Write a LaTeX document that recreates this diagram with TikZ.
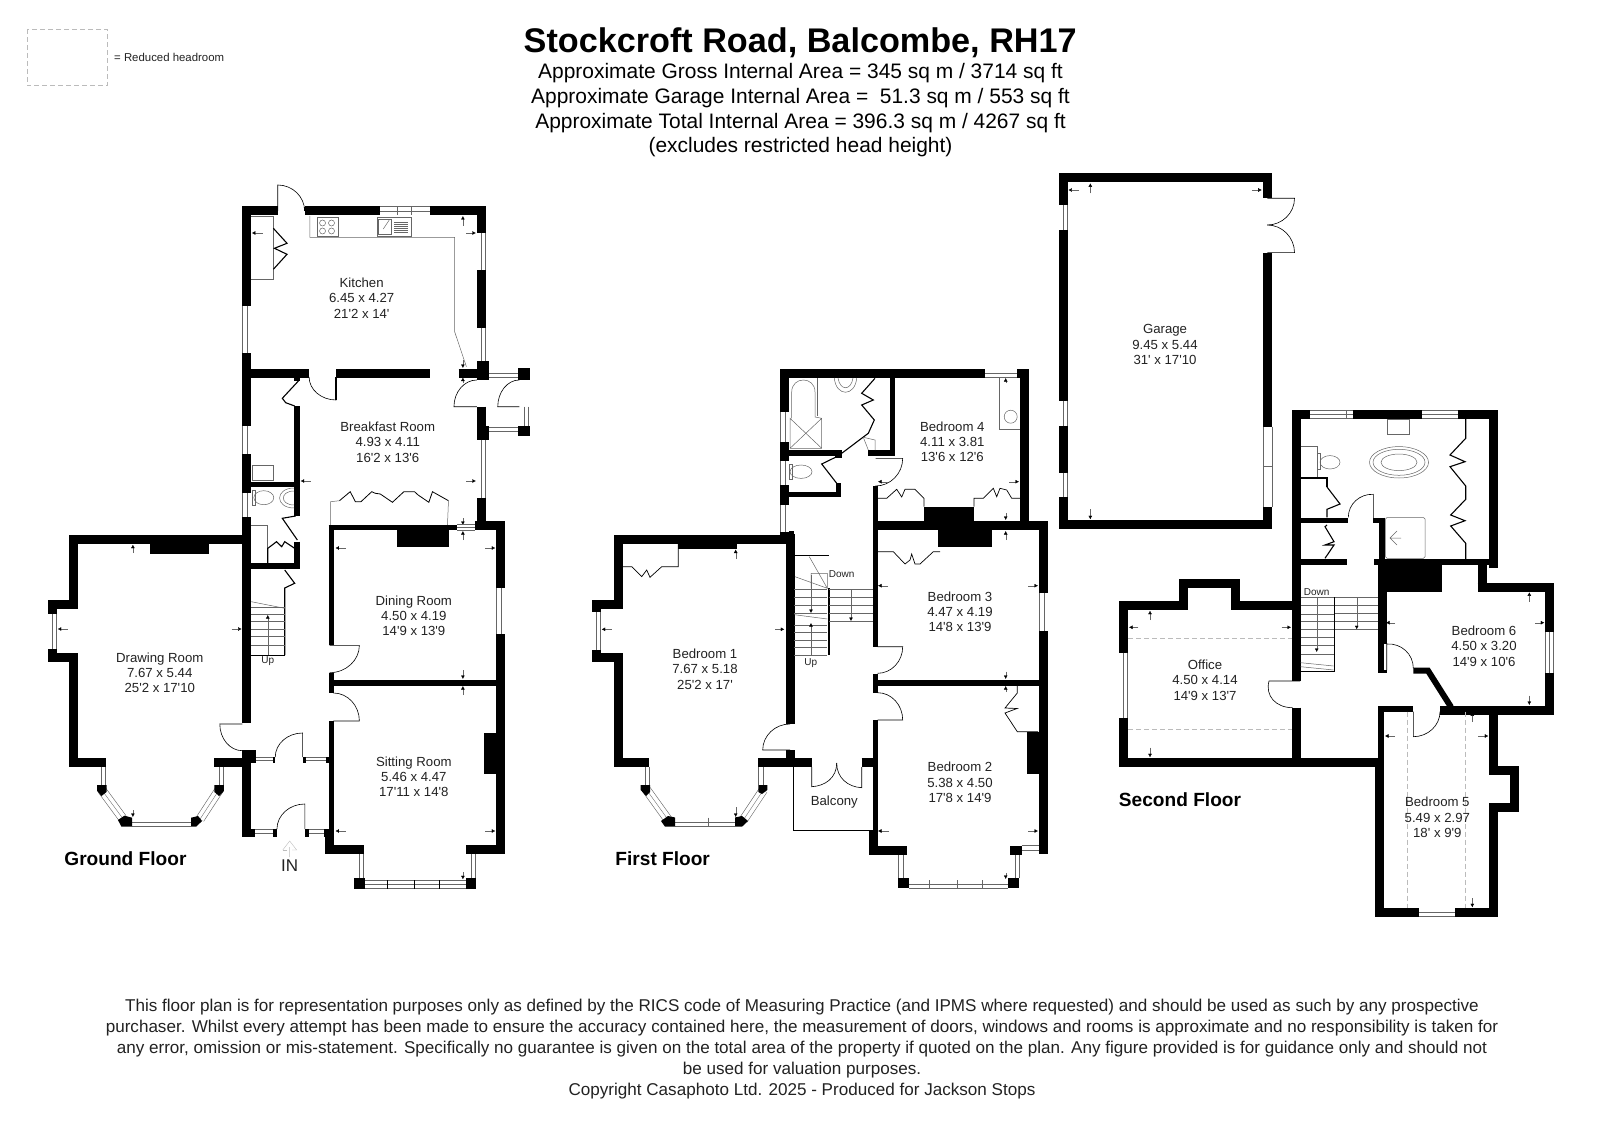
\documentclass[tikz,border=0pt]{standalone}
\usepackage{fontspec}
\setmainfont{Liberation Sans}[Ligatures=TeXOff]
\usetikzlibrary{arrows.meta,calc}
\definecolor{inkgrey}{HTML}{222222}
\definecolor{linegrey}{HTML}{666666}
\definecolor{roofgrey}{HTML}{BBBBBB}
\tikzset{
  wall/.style={line width=9pt,black},
  midwall/.style={line width=5.6pt,black},
  fixture/.style={line width=.5pt,linegrey},
  leaf/.style={line width=1.1pt,black,line join=miter},
  swing/.style={line width=.6pt,black},
  glassedge/.style={draw=linegrey,line width=.6pt,double=white,double distance=7.8pt},
  glassmid/.style={line width=.35pt,linegrey},
  dimarrow/.style={line width=.35pt,linegrey,-{Latex[length=3.5pt,width=3.8pt,black]}},
  roofline/.style={line width=.6pt,roofgrey,dash pattern=on 5pt off 3pt},
  roomlabel/.style={inner sep=0pt,align=center,text=inkgrey,font=\fontsize{13.2}{15.3}\selectfont},
  floorlabel/.style={inner sep=0pt,font=\bfseries\fontsize{19.1}{21}\selectfont},
  stairlabel/.style={inner sep=0pt,text=inkgrey,font=\fontsize{10}{12}\selectfont},
}
% door: hinge, tip of the leaf, end of the arc
\newcommand{\doorswing}[6]{\draw[swing] (#1,#2) -- (#3,#4) .. controls ($(#3,#4)+.55*(#5,#6)-.55*(#1,#2)$) and ($(#5,#6)+.55*(#3,#4)-.55*(#1,#2)$) .. (#5,#6);}
\newcommand{\glazing}[3][7.8pt]{\draw[glassedge,double distance=#1] #2 -- #3; \draw[glassmid] #2 -- #3;}
\begin{document}
\begin{tikzpicture}[x=1pt,y=-1pt]
    \useasboundingbox (0,0) rectangle (1600,1131);

    % Heading
    \node[inner sep=0pt,font=\bfseries\fontsize{34.2}{36}\selectfont] (title) at (800.2,43) {Stockcroft Road, Balcombe, RH17};
    \node[inner sep=0pt,align=center,font=\fontsize{20.95}{24.6}\selectfont,anchor=north] (areas) at (800.5,63.5) {Approximate Gross Internal Area = 345 sq m / 3714 sq ft\\Approximate Garage Internal Area =\ \ 51.3 sq m / 553 sq ft\\Approximate Total Internal Area = 396.3 sq m / 4267 sq ft\\(excludes restricted head height)};
    \draw[roofline] (26.8,29) rectangle (107.2,85.7);
    \node[anchor=west,inner sep=0pt,text=inkgrey,font=\fontsize{11.4}{13}\selectfont] (legend) at (114,57.3) {= Reduced headroom};

    \begin{scope}[xscale=.9955]
    % Kitchen
    \draw[wall] (279,211) -- (248,211) -- (248,306);
    \draw[wall] (306,211) -- (382,211);
    \draw[wall] (432,211) -- (483.5,211) -- (483.5,233);
    \draw[wall] (483.5,270) -- (483.5,328);
    \draw[wall] (483.5,361) -- (483.5,380);
    \draw[wall] (248,353) -- (248,426);
    \draw[wall] (248,453.6) -- (248,493);
    \draw[wall] (248,517) -- (248,723);
    \draw[wall] (248,750.7) -- (248,837.3);
    \draw[wall] (248,373) -- (310.5,373);
    \draw[wall] (337.6,373) -- (432,373);
    \draw[wall] (460.6,373) -- (491,373);
    \fill (479,361) rectangle (491,380);
    \fill (520.5,368.3) rectangle (532,380);
    \glazing{(382,211)}{(432,211)}
    \draw[glassmid] (398.5,207) -- (398.5,215.5) (413,207) -- (413,215.5);
    \glazing{(483.5,233)}{(483.5,270)}
    \glazing{(483.5,328)}{(483.5,361)}
    \glazing{(248,306)}{(248,353)}
    \glazing{(248,426)}{(248,453.6)}
    \glazing{(248,493)}{(248,517)}
    \doorswing{279}{211}{279}{185}{306}{211}
    \draw[swing] (306,211) -- (306,207);
    \doorswing{337.6}{377}{337.6}{400}{310.5}{377}
    \draw[line width=2pt] (337.6,377) -- (337.6,400);
    \draw[fixture] (252.4,216.7) -- (274.6,216.7) -- (274.6,279.3) -- (252.4,279.3);
    \draw[leaf] (274.6,228.3) -- (288.3,243.3) -- (275.7,248.3) -- (288.3,254.3) -- (274.6,269.3);
    \draw[fixture] (311.3,216) -- (311.3,237.3) -- (456.7,237.3) -- (456.7,331.7) -- (468.5,366.7);
    \draw[fixture] (318.8,217.7) rectangle (339.3,236);
    \foreach \hx/\hy in {324/223,333/223,324/231,333/231}{\draw[fixture] (\hx,\hy) circle (3pt);}
    \draw[fixture] (378.7,217.7) rectangle (412.9,236);
    \draw[fixture] (380,219) rectangle (393,234);
    \foreach \sy in {222,224,226,228,230,232}{\draw[fixture] (396,\sy) -- (410,\sy);}
    \draw[fixture] (385,229) -- (391,220);
    \node[roomlabel] (kitchen) at (363.3,298) {Kitchen\\6.45 x 4.27\\21'2 x 14'};
    \draw[dimarrow] (264,233) -- (253,233);
    \draw[dimarrow] (465,226) -- (465,216);
    \draw[dimarrow] (468.5,233) -- (478,233);
    \draw[dimarrow] (465,360) -- (465,368);

    % Breakfast room and cloaks
    \draw[wall] (483.5,406.7) -- (483.5,440);
    \draw[wall] (483.5,498) -- (483.5,523);
    \fill (479,426) rectangle (491,440);
    \glazing{(483.5,440)}{(483.5,498)}
    \glazing{(491,373)}{(520.5,373)}
    \glazing[7pt]{(491,431)}{(520.5,431)}
    \fill (520.5,425.7) rectangle (532,436);
    \glazing[7pt]{(527,406.7)}{(527,425.7)}
    \doorswing{479}{406.7}{456}{406.7}{479}{380}
    \doorswing{521.6}{406.7}{500}{406.7}{521.6}{380}
    \draw[midwall] (298.5,406) -- (298.5,516);
    \draw[midwall] (298.5,541.7) -- (298.5,569);
    \draw[line width=5pt] (248,484) -- (298.5,484);
    \draw[midwall] (248,566) -- (301,566);
    \fill (295.5,377) rectangle (301.5,380.7);
    \draw[leaf] (300,380.7) -- (283.6,398.3) -- (287,402.7) -- (296,406);
    \draw[leaf] (297,516) -- (283.6,518.3) -- (298.7,540);
    \draw[fixture] (253,465.7) rectangle (274.6,480.7);
    \draw[fixture] (253,490) rectangle (256.7,505);
    \draw[fixture] (265,497.7) ellipse (10pt and 7pt);
    \draw[fixture] (295.5,488) .. controls (276,488) and (276,508) .. (295.5,508);
    \draw[fixture] (295.5,491) .. controls (281,491) and (281,505) .. (295.5,505);
    \draw[fixture] (252.4,525) -- (268,525) -- (268,563);
    \draw[leaf] (269,563) -- (269,548.3) -- (277.8,541.7) -- (283,546.7) -- (286,541.7) -- (296,548.3);
    \draw[leaf] (286,570) -- (296,583.3) -- (286,588) -- (286,655);
    \node[roomlabel] (breakfast) at (389.5,442) {Breakfast Room\\4.93 x 4.11\\16'2 x 13'6};
    \draw[fixture] (332,525) -- (332,501.7) -- (341,500.7);
    \draw[leaf,line width=.8pt] (341,500.7) -- (351.8,491.7) -- (357,501.7) -- (362.6,501.7) -- (373.4,491.7) -- (377,493.3) -- (382,494) -- (394.2,502.3) -- (405.7,491.7) -- (416.4,491.7) -- (420,495) -- (430.8,502.3) -- (434.4,491.7) -- (450.5,500.7);
    \draw[fixture] (450.5,500.7) -- (449.5,525);
    \draw[dimarrow] (465,383) -- (465,377.5);
    \draw[dimarrow] (312,481) -- (302,481);
    \draw[dimarrow] (468.5,481) -- (478,481);
    \draw[dimarrow] (465,518) -- (465,525);

    % Stairs up
    \foreach \ty in {607.3,614.3,621.7,629.3,636.7,645.7}{\draw[fixture] (252.4,\ty) -- (286,\ty);}
    \draw[fixture] (252.4,601.7) -- (286,608.3);
    \draw[line width=.9pt] (252.4,655) -- (286,655);
    \draw[dimarrow] (269,655) -- (269,615);
    \node[stairlabel] (upa) at (269,660.7) {Up};

    % Dining room
    \draw[line width=5pt] (333,527) -- (333,645.3);
    \draw[line width=5pt] (333,672.7) -- (333,693);
    \draw[line width=5pt] (333,721) -- (333,840);
    \draw[line width=5pt] (330,527.5) -- (451,527.5);
    \draw[wall] (477,525.5) -- (503,525.5) -- (503,588);
    \draw[wall] (503,634) -- (503,849.5) -- (468.5,849.5);
    \draw[line width=6pt] (333,682.5) -- (498,682.5);
    \fill (399,530) rectangle (450.6,547.3);
    \glazing[5pt]{(459,527.5)}{(477.5,527.5)}
    \fill (451,525) rectangle (459,530);
    \glazing{(503,588)}{(503,634)}
    \doorswing{331}{645.3}{361}{645.3}{331}{672.7}
    \node[roomlabel] (dining) at (415.7,615.7) {Dining Room\\4.50 x 4.19\\14'9 x 13'9};
    \draw[dimarrow] (465,540) -- (465,531);
    \draw[dimarrow] (347.5,548) -- (337,548);
    \draw[dimarrow] (487.5,548) -- (497.5,548);
    \draw[dimarrow] (465,670) -- (465,679);

    % Sitting room
    \doorswing{335}{721}{361}{721}{335}{693}
    \draw[wall] (331,837) -- (331,849.5) -- (365.5,849.5);
    \fill (486,733) rectangle (498,774);
    \fill (356,878) rectangle (367,889);
    \fill (468,878) rectangle (478,889);
    \glazing{(361,854)}{(361,878)}
    \glazing{(473.5,854)}{(473.5,878)}
    \glazing{(367,884.5)}{(468,884.5)}
    \draw[line width=1pt] (389.5,880) -- (389.5,889) (416.4,880) -- (416.4,889) (441.5,880) -- (441.5,889);
    \node[roomlabel] (sitting) at (415.7,776.7) {Sitting Room\\5.46 x 4.47\\17'11 x 14'8};
    \draw[dimarrow] (465,695) -- (465,686);
    \draw[dimarrow] (347.5,831) -- (337,831);
    \draw[dimarrow] (487.5,831) -- (497.5,831);
    \draw[dimarrow] (465,872) -- (465,879.3);

    % Entrance
    \fill (243.4,750) rectangle (257,763.3);
    \fill (274,757.3) rectangle (276.5,763.3);
    \fill (304,757.3) rectangle (307,763.3);
    \fill (327,757.3) rectangle (335,763.3);
    \glazing[5pt]{(257,760.3)}{(274,760.3)}
    \glazing[5pt]{(307,760.3)}{(327,760.3)}
    \doorswing{304}{757}{304}{733}{276.5}{757}
    \fill (243.5,829) rectangle (256.3,837.3);
    \fill (274.6,829) rectangle (278.2,837.3);
    \fill (306.2,829) rectangle (310.5,837.3);
    \fill (325,829) rectangle (335.6,837.3);
    \glazing[7pt]{(256.3,833)}{(274.6,833)}
    \glazing[7pt]{(310.5,833)}{(325,833)}
    \doorswing{306.2}{829}{306.2}{804}{278.2}{829}
    \draw[line width=.4pt,roofgrey] (291,857) -- (291,847) (284,850) -- (291,841) -- (298,850) -- (293.5,850);
    \draw[line width=.4pt,roofgrey] (288.5,850) -- (284,850);
    \node[inner sep=0pt,text=inkgrey,font=\fontsize{17}{19}\selectfont] (entry) at (291,866) {IN};

    % Drawing room
    \draw[wall] (248,539.3) -- (73.8,539.3) -- (73.8,604.5) -- (52.5,604.5) -- (52.5,614);
    \draw[wall] (52.5,649) -- (52.5,657.2) -- (73.8,657.2) -- (73.8,762.5) -- (106,762.5);
    \draw[wall] (215.4,762.5) -- (248,762.5);
    \fill (150.8,544) rectangle (210,554.3);
    \glazing{(52.5,614)}{(52.5,649)}
    \glazing{(101.8,767)}{(101.8,785)}
    \glazing{(220.2,767)}{(220.2,785)}
    \glazing{(102.3,790)}{(123,818)}
    \glazing{(201,819)}{(220,790)}
    \glazing{(132.8,822.2)}{(192,822.2)}
    \fill (97.6,785) -- (107,785) -- (107,792) -- (102,796) -- (97.6,791) -- cycle;
    \fill (215.4,785) -- (225,785) -- (225,791) -- (220,796) -- (215.4,792) -- cycle;
    \fill (118.5,820) -- (125,815.7) -- (132.8,817.7) -- (132.8,826.7) -- (122,826.7) -- cycle;
    \fill (192,817.7) -- (199,816) -- (203,821) -- (197,826.7) -- (192,826.7) -- cycle;
    \doorswing{243.4}{724}{220.8}{724}{243.4}{750.7}
    \node[roomlabel] (drawing) at (160.5,672.7) {Drawing Room\\7.67 x 5.44\\25'2 x 17'10};
    \draw[dimarrow] (133.5,553) -- (133.5,544.7);
    \draw[dimarrow] (68,629) -- (58,629);
    \draw[dimarrow] (232.6,629) -- (242.7,629);
    \draw[dimarrow] (133.5,810) -- (133.5,817);
    \node[floorlabel] (groundfloor) at (126,859) {Ground Floor};
    \end{scope}

    % First floor: outer walls
    \draw[wall] (985,373) -- (784.7,373) -- (784.7,412.3);
    \draw[wall] (1016.7,373) -- (1024.7,373) -- (1024.7,521);
    \draw[wall] (784.7,442) -- (784.7,461);
    \draw[wall] (784.7,485) -- (784.7,505);
    \fill (780,531) rectangle (794.3,540);
    \draw[wall] (790,534) -- (790,724);
    \draw[wall] (790,750) -- (790,762.3);
    \glazing{(985,373)}{(1016.7,373)}
    \glazing{(784.7,412.3)}{(784.7,442)}
    \glazing{(784.7,461)}{(784.7,485)}
    \glazing{(784.7,505)}{(784.7,531.7)}

    % Bathroom and WC
    \draw[midwall] (789,453) -- (841.7,453);
    \fill (835,455) rectangle (841.7,458);
    \draw[midwall] (868.3,453) -- (892.3,453) -- (892.3,377);
    \draw[midwall] (789,494.5) -- (838.3,494.5) -- (838.3,483.3);
    \draw[fixture] (791.7,418.3) -- (791.7,392) .. controls (791.7,376) and (815,376) .. (815,392) -- (815,417) -- (821.7,418.3) -- (821.7,448.3) -- (790,448.3) -- (790,418.3) -- (821.7,448.3) (790,448.3) -- (821.7,418.3);
    \draw[fixture] (817,378) -- (817,416);
    \draw[fixture] (834.3,378) .. controls (836,397) and (855,397) .. (856.7,378);
    \draw[fixture] (838,378) .. controls (840,391) and (851,391) .. (853,378);
    \draw[fixture] (789.3,464) rectangle (792.7,479.3);
    \draw[fixture] (801,471.7) ellipse (11pt and 6.7pt);
    \draw[leaf] (875,378.3) -- (861.7,393.3) -- (873.3,400) -- (861.7,405) -- (874.3,420) -- (868.3,433.3) -- (841.7,453.3);
    \draw[fixture] (863.3,437.3) -- (868.3,450) (863.3,437.3) -- (875,440) -- (875,450);
    \draw[leaf] (836.7,456.7) -- (821.7,464) -- (836.7,483.3);

    % Bedroom 4
    \draw[line width=5pt] (875.5,486) -- (875.5,646.7);
    \draw[wall] (877.7,525.5) -- (1043.7,525.5) -- (1043.7,593.3);
    \fill (924,506.7) rectangle (974,521);
    \fill (938.3,530) rectangle (991.7,547.3);
    \doorswing{875.5}{458.3}{902.7}{458.3}{875.5}{486}
    \draw[fixture] (999.3,378) -- (999.3,429.3) -- (1020,429.3);
    \draw[fixture] (1010.7,416.7) circle (6.5pt);
    \draw[leaf,line width=.7pt] (878,498.3) -- (886.7,498.3) -- (896.7,489.3) -- (901.7,497) -- (905,489.3) -- (915,489.3) -- (924,498.3) -- (924,506.7);
    \draw[leaf,line width=.7pt] (974,506.7) -- (974,498.3) -- (983.3,498.3) -- (993.3,488.3) -- (996.7,496.7) -- (1000,488.3) -- (1006.7,490) -- (1011.7,498.3) -- (1020,498.3);
    \node[roomlabel] (bedfour) at (952.3,441.7) {Bedroom 4\\4.11 x 3.81\\13'6 x 12'6};
    \draw[dimarrow] (1005.7,383) -- (1005.7,378);
    \draw[dimarrow] (888,481.7) -- (878,481.7);
    \draw[dimarrow] (1009,481.7) -- (1019,481.7);
    \draw[dimarrow] (1005.7,513) -- (1005.7,520);

    % Bedroom 3
    \draw[wall] (1043.7,631) -- (1043.7,849.5);
    \draw[line width=5pt] (875.5,674) -- (875.5,692.7);
    \draw[line width=6pt] (875.5,682.5) -- (1039,682.5);
    \glazing{(1043.7,593.3)}{(1043.7,631)}
    \doorswing{877.7}{646.7}{902.7}{646.7}{877.7}{673.3}
    \draw[leaf,line width=.7pt] (878,551.7) -- (893.3,551.7) -- (905,564) -- (910,560) -- (911.7,554) -- (915,564) -- (920,564) -- (933.3,551.7) -- (940,551.7);
    \node[roomlabel] (bedthree) at (960,611.7) {Bedroom 3\\4.47 x 4.19\\14'8 x 13'9};
    \draw[dimarrow] (1005.7,540) -- (1005.7,531);
    \draw[dimarrow] (888,585.7) -- (878,585.7);
    \draw[dimarrow] (1028,585.7) -- (1038,585.7);
    \draw[dimarrow] (1005.7,671.7) -- (1005.7,679);

    % Bedroom 2
    \draw[line width=5pt] (875.5,720) -- (875.5,830);
    \fill (869.3,830) rectangle (877.7,854.3);
    \draw[wall] (869.3,850) -- (907.3,850);
    \fill (1010,845.7) rectangle (1021.7,855);
    \fill (1039,845.7) rectangle (1048.3,853.7);
    \glazing{(1021.7,849.7)}{(1039,849.7)}
    \glazing{(902.8,855)}{(902.8,878)}
    \glazing{(1015,855)}{(1015,878)}
    \glazing{(909.3,884.1)}{(1008.3,884.1)}
    \draw[glassmid] (929.3,880) -- (929.3,888.3) (956.7,880) -- (956.7,888.3) (981.7,880) -- (981.7,888.3);
    \fill (898.3,878) rectangle (909.3,888.3);
    \fill (1008.3,878) rectangle (1019.3,888.3);
    \fill (1027.3,731.7) rectangle (1039,774);
    \doorswing{877.7}{720}{902.7}{720}{877.7}{692.7}
    \draw[leaf,line width=.7pt] (1017.3,685.7) -- (1017.3,693) -- (1005,708) -- (1017,708.5) -- (1005,713) -- (1017.3,731.7) -- (1038,731.7);
    \node[roomlabel] (bedtwo) at (960,782.3) {Bedroom 2\\5.38 x 4.50\\17'8 x 14'9};
    \draw[dimarrow] (1005.7,692) -- (1005.7,686);
    \draw[dimarrow] (889,831) -- (878,831);
    \draw[dimarrow] (1028,831) -- (1038,831);
    \draw[dimarrow] (1005.7,873) -- (1005.7,879);

    % Bedroom 1
    \draw[wall] (790,539) -- (618,539) -- (618,604.6) -- (596,604.6) -- (596,612);
    \draw[wall] (596,650) -- (596,657) -- (618,657) -- (618,762.3) -- (649.3,762.3);
    \draw[wall] (758.3,762.3) -- (811.7,762.3);
    \draw[wall] (861.7,762.3) -- (873.3,762.3);
    \fill (678,543) rectangle (737,549.3);
    \glazing{(596,612)}{(596,650)}
    \glazing{(645,767)}{(645,785)}
    \glazing{(762.8,767)}{(762.8,785)}
    \glazing{(646.7,790)}{(668.3,820)}
    \glazing{(743.3,820)}{(763.3,790)}
    \glazing{(675,822)}{(735,822)}
    \draw[glassmid] (708.3,817.5) -- (708.3,826.5);
    \fill (640.7,785) -- (650,785) -- (650,792) -- (646,796) -- (640.7,790) -- cycle;
    \fill (758.3,785) -- (767.3,785) -- (767.3,790) -- (762,794) -- (758.3,792) -- cycle;
    \fill (661,821) -- (668,816) -- (675,817.5) -- (675,826.7) -- (665,826.7) -- cycle;
    \fill (735,817.5) -- (742,816) -- (748,821) -- (742,826.7) -- (735,826.7) -- cycle;
    \doorswing{790}{750}{762.7}{750}{790}{724}
    \draw[leaf,line width=.7pt] (622.3,566.7) -- (631.7,566.7) -- (641.7,576.7) -- (646.7,570) -- (650,577.3) -- (661.7,566.7) -- (678.3,566.7) -- (678.3,544);
    \node[roomlabel] (bedone) at (705,669) {Bedroom 1\\7.67 x 5.18\\25'2 x 17'};
    \draw[dimarrow] (735.7,559) -- (735.7,549.5);
    \draw[dimarrow] (611.7,629.3) -- (601.7,629.3);
    \draw[dimarrow] (775,629.3) -- (784.3,629.3);
    \draw[dimarrow] (735.7,807) -- (735.7,817);
    \node[floorlabel] (firstfloor) at (662.7,859) {First Floor};

    % Balcony
    \draw[line width=1pt] (793.3,767) -- (793.3,830) -- (869.3,830);
    \draw[swing] (811.7,767) -- (811.7,786.7) .. controls (825,786) and (836.7,778) .. (836.7,763);
    \draw[swing] (861.7,767) -- (861.7,787.7) .. controls (848,787) and (836.7,778) .. (836.7,763);
    \node[roomlabel] (balcony) at (834.3,801.7) {Balcony};

    % First floor stairs
    \draw[line width=1.5pt] (794.3,555.7) -- (829.3,555.7);
    \draw[line width=1.8pt] (828.7,588.3) -- (828.7,655);
    \draw[fixture] (809.3,556.7) -- (827.3,588.3) -- (795,576.7) (811,588) -- (811,573.3) -- (827.3,573.3) -- (827.3,588.3);
    \foreach \ty in {589,597,605,613.3,621.7}{\draw[fixture] (829.3,\ty) -- (873.3,\ty);}
    \foreach \ty in {589,597,605,613.3,625,632.3,640,647.3,655}{\draw[fixture] (794.3,\ty) -- (827.3,\ty);}
    \draw[fixture] (794.3,614.7) -- (827.3,619);
    \draw[dimarrow] (851,589) -- (851,621);
    \draw[dimarrow] (811,575) -- (811,613);
    \draw[dimarrow] (811,655) -- (811,623);
    \node[stairlabel] (downa) at (841.7,574) {Down};
    \node[stairlabel] (upb) at (810.7,663.3) {Up};

    % Garage
    \draw[wall] (1063.3,205) -- (1063.3,178) -- (1267.7,178) -- (1267.7,198.3);
    \draw[wall] (1267.7,252.7) -- (1267.7,426.7);
    \draw[wall] (1267.7,507.3) -- (1267.7,524.7) -- (1063.3,524.7) -- (1063.3,497.3);
    \draw[wall] (1063.3,230) -- (1063.3,400.7);
    \draw[wall] (1063.3,425.7) -- (1063.3,472.7);
    \glazing{(1063.3,205)}{(1063.3,230)}
    \glazing{(1063.3,400.7)}{(1063.3,425.7)}
    \glazing{(1063.3,472.7)}{(1063.3,497.3)}
    \draw[fixture] (1263.2,426.7) -- (1263.2,466.7) -- (1272.2,466.7) -- (1272.2,507.3) (1272.2,426.7) -- (1272.2,466.7) (1263.2,466.7) -- (1263.2,507.3);
    \doorswing{1267.3}{198.3}{1294.5}{198.3}{1267.3}{225}
    \doorswing{1267.3}{252.7}{1294.5}{252.7}{1267.3}{225}
    \node[roomlabel] (garage) at (1165,344.7) {Garage\\9.45 x 5.44\\31' x 17'10};
    \draw[dimarrow] (1079,190) -- (1068.4,190);
    \draw[dimarrow] (1090.3,193.3) -- (1090.3,183.3);
    \draw[dimarrow] (1251.8,190) -- (1261.7,190);
    \draw[dimarrow] (1090.3,509.3) -- (1090.3,519.3);

    % Second floor: upper bathroom
    \draw[wall] (1310,414.5) -- (1296.2,414.5) -- (1296.2,681);
    \draw[wall] (1353.3,414.5) -- (1422.3,414.5);
    \draw[wall] (1457.7,414.5) -- (1493.2,414.5) -- (1493.2,567.7);
    \glazing{(1310,414.5)}{(1353.3,414.5)}
    \draw[glassmid] (1345.7,410) -- (1345.7,419);
    \glazing{(1422.3,414.5)}{(1457.7,414.5)}
    \draw[midwall] (1296,520.3) -- (1348.3,520.3);
    \draw[midwall] (1373.3,520.3) -- (1385,520.3);
    \draw[midwall] (1382.2,517.5) -- (1382.2,562);
    \draw[line width=6pt] (1296,562) -- (1346.7,562);
    \draw[line width=6pt] (1374,562) -- (1497.7,562);
    \fill (1378.3,559) rectangle (1441.7,591.7);
    \doorswing{1373.3}{518.3}{1373.3}{494.3}{1348.3}{517.3}
    \draw[fixture] (1387.7,419) rectangle (1409.3,434);
    \draw[fixture] (1300.7,446) -- (1317.3,446) -- (1317.3,477.3);
    \draw[fixture] (1317.3,453.3) rectangle (1320.7,469.3);
    \draw[fixture] (1330,462.3) ellipse (10pt and 6.7pt);
    \draw[fixture] (1399,462.3) ellipse (29.5pt and 15.7pt);
    \draw[fixture] (1399,462.3) ellipse (26pt and 13pt);
    \draw[fixture] (1399,462.3) ellipse (18pt and 8.3pt);
    \draw[line width=1.4pt] (1300.7,478) -- (1327,478) -- (1327,487);
    \draw[leaf] (1327,487) -- (1340,504) -- (1327,509.3) -- (1327,517.3);
    \draw[leaf] (1327,525) -- (1325,526.7) -- (1334,541.7) -- (1325,545) -- (1334,545) -- (1325,558.3);
    \draw[leaf] (1465.7,419) -- (1465.7,438.3) -- (1450,455) -- (1465,461.7) -- (1450,466.7) -- (1465.7,486) -- (1465.7,499.3) -- (1450.7,515) -- (1465,520.7) -- (1450.7,526) -- (1465.7,543.3) -- (1465.7,559);
    \draw[fixture,rounded corners=1.5pt] (1385.5,517.5) rectangle (1425,558.3);
    \draw[fixture] (1401,538) -- (1390,538) (1397,531) -- (1390,538) -- (1397,545);

    % Office
    \draw[wall] (1296.2,605.5) -- (1235.7,605.5) -- (1235.7,583.7) -- (1183.5,583.7) -- (1183.5,605.5) -- (1123.3,605.5) -- (1123.3,652.7);
    \draw[wall] (1123.3,717.7) -- (1123.3,762.2) -- (1378,762.2);
    \draw[wall] (1296.2,707.7) -- (1296.2,762);
    \glazing{(1123.3,652.7)}{(1123.3,717.7)}
    \draw[roofline] (1128.3,638.3) -- (1291.7,638.3);
    \draw[roofline] (1128.3,729) -- (1291.7,729);
    \doorswing{1300}{681}{1269}{681}{1292.7}{707.7}
    \node[roomlabel] (office) at (1205,680) {Office\\4.50 x 4.14\\14'9 x 13'7};
    \draw[dimarrow] (1150,620) -- (1150,610.7);
    \draw[dimarrow] (1138.3,627.3) -- (1129,627.3);
    \draw[dimarrow] (1281.7,627.3) -- (1291,627.3);
    \draw[dimarrow] (1150,747.7) -- (1150,757.3);
    \node[floorlabel] (secondfloor) at (1180,799.3) {Second Floor};

    % Second floor stairs
    \draw[line width=1.5pt] (1334.3,597.3) -- (1334.3,672);
    \draw[line width=1.5pt] (1300.7,671.5) -- (1335,671.5);
    \foreach \ty in {597.3,605,614,621.7,629.3,637.7,645.7,654.3}{\draw[fixture] (1300.7,\ty) -- (1333.5,\ty);}
    \foreach \ty in {597.3,605,613.3,621.7,629.3}{\draw[fixture] (1335,\ty) -- (1378,\ty);}
    \draw[fixture] (1300.7,662.7) -- (1333.5,666);
    \draw[fixture] (1300.7,666.7) -- (1333.5,670);
    \draw[dimarrow] (1316.7,597.3) -- (1316.7,652);
    \draw[dimarrow] (1356.7,597.3) -- (1356.7,629.3);
    \node[stairlabel] (downb) at (1316.7,592.3) {Down};

    % Bedroom 6
    \fill (1477.7,565) rectangle (1486.7,591.7);
    \draw[wall] (1477.7,587) -- (1549.5,587) -- (1549.5,632.3);
    \draw[wall] (1549.5,673.3) -- (1549.5,710.4) -- (1440,710.4);
    \draw[wall] (1382.5,591) -- (1382.5,673.3);
    \fill[white] (1384,644) rectangle (1386.5,670);
    \draw[line width=6pt] (1413.3,670.7) -- (1428,670.7) -- (1451,707);
    \glazing{(1549.5,632.3)}{(1549.5,673.3)}
    \doorswing{1386.7}{670}{1386.7}{644}{1413.3}{668.3}
    \node[roomlabel] (bedsix) at (1484,646) {Bedroom 6\\4.50 x 3.20\\14'9 x 10'6};
    \draw[dimarrow] (1529.3,601.7) -- (1529.3,592.3);
    \draw[dimarrow] (1395,622.7) -- (1386,622.7);
    \draw[dimarrow] (1535,622.7) -- (1544.3,622.7);
    \draw[dimarrow] (1529.3,695.7) -- (1529.3,705);

    % Bedroom 5
    \draw[line width=6pt] (1378.3,708.7) -- (1413.3,708.7);
    \draw[line width=6pt] (1381,708) -- (1381,760);
    \draw[wall] (1419,912) -- (1379,912) -- (1379,758);
    \draw[wall] (1493,710) -- (1493,770.4) -- (1514.7,770.4) -- (1514.7,807) -- (1493,807) -- (1493,912) -- (1455,912);
    \glazing{(1419,912)}{(1455,912)}
    \draw[roofline] (1407.7,711.7) -- (1407.7,907.7);
    \draw[roofline] (1465.7,711.7) -- (1465.7,907.7);
    \doorswing{1413.3}{711.7}{1413.3}{736.7}{1440}{711.7}
    \node[roomlabel] (bedfive) at (1437.3,817.3) {Bedroom 5\\5.49 x 2.97\\18' x 9'9};
    \draw[dimarrow] (1395,736) -- (1385,736);
    \draw[dimarrow] (1478.3,736) -- (1488.3,736);
    \draw[dimarrow] (1472.3,721.7) -- (1472.3,712.3);
    \draw[dimarrow] (1472.3,898.3) -- (1472.3,907.3);

    % Footer
    \node[inner sep=0pt,align=center,text=inkgrey,anchor=north,font=\fontsize{17.08}{21}\selectfont] (disclaimer) at (802,999) {This floor plan is for representation purposes only as defined by the RICS code of Measuring Practice (and IPMS where requested) and should be used as such by any prospective\\purchaser. Whilst every attempt has been made to ensure the accuracy contained here, the measurement of doors, windows and rooms is approximate and no responsibility is taken for\\any error, omission or mis-statement. Specifically no guarantee is given on the total area of the property if quoted on the plan. Any figure provided is for guidance only and should not\\be used for valuation purposes.\\Copyright Casaphoto Ltd. 2025 - Produced for Jackson Stops};
\end{tikzpicture}
\end{document}
